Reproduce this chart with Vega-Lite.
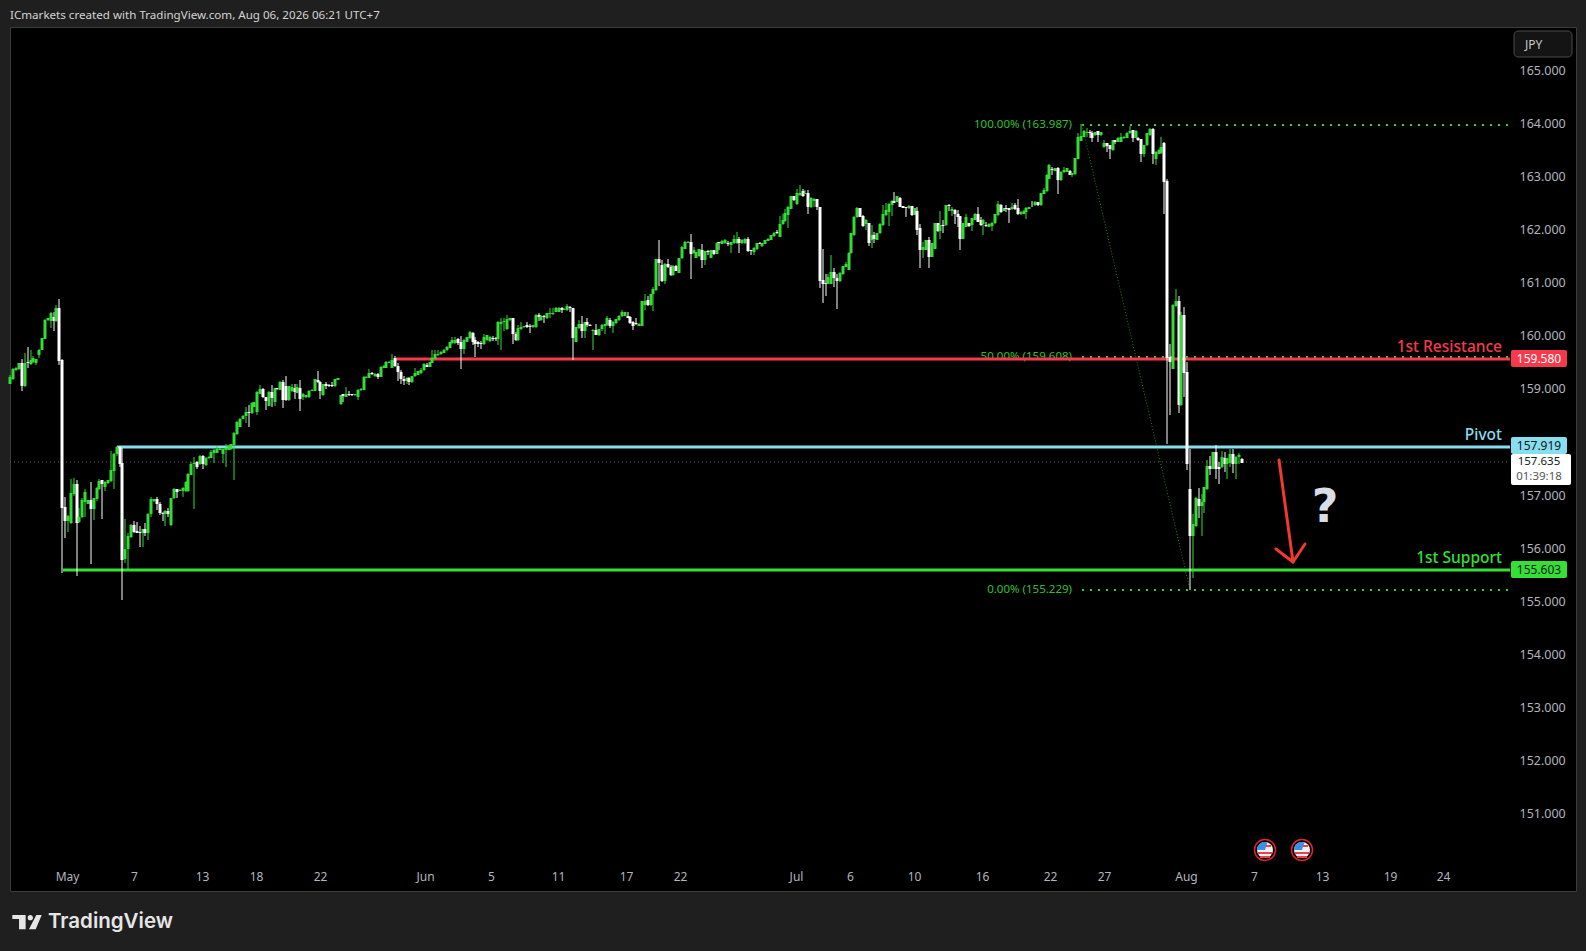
{"$schema":"https://vega.github.io/schema/vega-lite/v6.json","width":1566,"height":864,"autosize":"none","padding":{"left":10,"top":27,"right":10,"bottom":60},"background":"#1f1f1f","config":{"view":{"fill":"#000000","stroke":"#3c3c3c"},"font":"Noto Sans"},
"title":{"text":"ICmarkets created with TradingView.com, Aug 06, 2026 06:21 UTC+7","anchor":"start","frame":"group","fontSize":11.6,"fontWeight":"normal","color":"#d4d4d4","font":"Noto Sans","offset":5},
"datasets":{
"candles":[
{"b":0,"o":159.11,"h":159.27,"l":159.11,"c":159.24},{"b":1,"o":159.19,"h":159.4,"l":159.17,"c":159.38},{"b":2,"o":159.36,"h":159.42,"l":159.35,"c":159.41},{"b":3,"o":159.38,"h":159.5,"l":159.37,"c":159.49},{"b":4,"o":159.49,"h":159.57,"l":158.97,"c":159.06},{"b":5,"o":159.06,"h":159.68,"l":159.05,"c":159.5},{"b":6,"o":159.51,"h":159.8,"l":159.41,"c":159.49},{"b":7,"o":159.48,"h":159.75,"l":159.45,"c":159.55},{"b":8,"o":159.52,"h":159.62,"l":159.5,"c":159.6},{"b":9,"o":159.49,"h":159.58,"l":159.45,"c":159.57},{"b":10,"o":159.65,"h":159.76,"l":159.6,"c":159.75},{"b":11,"o":159.75,"h":159.97,"l":159.74,"c":159.96},{"b":12,"o":159.95,"h":160.32,"l":159.94,"c":160.31},{"b":13,"o":160.3,"h":160.35,"l":160.28,"c":160.34},{"b":14,"o":160.29,"h":160.46,"l":160.15,"c":160.44},{"b":15,"o":160.37,"h":160.45,"l":160.09,"c":160.29},{"b":16,"o":160.29,"h":160.59,"l":160.27,"c":160.53},{"b":17,"o":160.53,"h":160.71,"l":159.46,"c":159.54},{"b":18,"o":159.55,"h":159.57,"l":155.55,"c":156.77},{"b":19,"o":156.78,"h":156.97,"l":156.21,"c":156.53},
{"b":20,"o":156.53,"h":156.63,"l":156.32,"c":156.61},{"b":21,"o":156.48,"h":157.31,"l":156.46,"c":157.05},{"b":22,"o":157.03,"h":157.33,"l":157.0,"c":157.22},{"b":23,"o":157.22,"h":157.29,"l":155.49,"c":156.49},{"b":24,"o":156.5,"h":156.76,"l":156.48,"c":156.6},{"b":25,"o":156.6,"h":156.95,"l":156.58,"c":156.92},{"b":26,"o":156.87,"h":157.12,"l":156.6,"c":157.06},{"b":27,"o":156.85,"h":156.92,"l":156.84,"c":156.91},{"b":28,"o":156.91,"h":157.25,"l":155.72,"c":156.75},{"b":29,"o":156.75,"h":156.96,"l":156.54,"c":156.95},{"b":30,"o":156.93,"h":157.16,"l":156.9,"c":157.15},{"b":31,"o":157.12,"h":157.31,"l":157.1,"c":157.27},{"b":32,"o":157.29,"h":157.3,"l":156.56,"c":157.22},{"b":33,"o":157.17,"h":157.28,"l":157.09,"c":157.26},{"b":34,"o":157.23,"h":157.3,"l":157.22,"c":157.29},{"b":35,"o":157.27,"h":157.84,"l":157.25,"c":157.48},{"b":36,"o":157.47,"h":157.8,"l":157.12,"c":157.78},{"b":37,"o":157.78,"h":157.93,"l":157.75,"c":157.91},{"b":38,"o":157.92,"h":157.93,"l":157.54,"c":157.59},{"b":39,"o":157.61,"h":157.89,"l":155.03,"c":155.79},
{"b":40,"o":155.8,"h":156.56,"l":155.73,"c":155.99},{"b":41,"o":155.99,"h":156.3,"l":155.61,"c":156.24},{"b":42,"o":156.22,"h":156.46,"l":156.2,"c":156.44},{"b":43,"o":156.44,"h":156.52,"l":156.3,"c":156.32},{"b":44,"o":156.34,"h":156.5,"l":156.29,"c":156.3},{"b":45,"o":156.32,"h":156.42,"l":156.04,"c":156.3},{"b":46,"o":156.3,"h":156.38,"l":156.04,"c":156.37},{"b":47,"o":156.37,"h":156.48,"l":156.24,"c":156.3},{"b":48,"o":156.3,"h":156.68,"l":156.16,"c":156.66},{"b":49,"o":156.66,"h":156.98,"l":156.6,"c":156.93},{"b":50,"o":156.9,"h":156.94,"l":156.88,"c":156.93},{"b":51,"o":156.94,"h":156.98,"l":156.73,"c":156.84},{"b":52,"o":156.84,"h":156.88,"l":156.63,"c":156.68},{"b":53,"o":156.68,"h":156.69,"l":156.53,"c":156.65},{"b":54,"o":156.65,"h":156.72,"l":156.43,"c":156.71},{"b":55,"o":156.71,"h":156.76,"l":156.6,"c":156.66},{"b":56,"o":156.44,"h":156.96,"l":156.43,"c":156.95},{"b":57,"o":156.95,"h":157.15,"l":156.94,"c":157.13},{"b":58,"o":157.12,"h":157.13,"l":156.96,"c":157.07},{"b":59,"o":157.09,"h":157.12,"l":157.08,"c":157.11},
{"b":60,"o":157.09,"h":157.16,"l":156.98,"c":157.15},{"b":61,"o":157.08,"h":157.27,"l":157.07,"c":157.26},{"b":62,"o":157.09,"h":157.42,"l":157.06,"c":157.41},{"b":63,"o":157.39,"h":157.64,"l":157.38,"c":157.59},{"b":64,"o":157.59,"h":157.73,"l":156.75,"c":157.62},{"b":65,"o":157.64,"h":157.65,"l":157.51,"c":157.54},{"b":66,"o":157.59,"h":157.76,"l":157.58,"c":157.75},{"b":67,"o":157.74,"h":157.76,"l":157.51,"c":157.59},{"b":68,"o":157.57,"h":157.72,"l":157.56,"c":157.71},{"b":69,"o":157.7,"h":157.74,"l":157.69,"c":157.73},{"b":70,"o":157.71,"h":157.86,"l":157.7,"c":157.82},{"b":71,"o":157.8,"h":157.87,"l":157.62,"c":157.86},{"b":72,"o":157.81,"h":157.94,"l":157.8,"c":157.88},{"b":73,"o":157.86,"h":157.89,"l":157.85,"c":157.88},{"b":74,"o":157.78,"h":157.88,"l":157.62,"c":157.87},{"b":75,"o":157.86,"h":157.98,"l":157.54,"c":157.89},{"b":76,"o":157.86,"h":157.95,"l":157.85,"c":157.94},{"b":77,"o":157.87,"h":157.98,"l":157.86,"c":157.97},{"b":78,"o":157.95,"h":158.19,"l":157.29,"c":158.18},{"b":79,"o":158.16,"h":158.4,"l":158.15,"c":158.39},
{"b":80,"o":158.3,"h":158.46,"l":158.29,"c":158.45},{"b":81,"o":158.45,"h":158.51,"l":158.44,"c":158.5},{"b":82,"o":158.5,"h":158.67,"l":158.36,"c":158.57},{"b":83,"o":158.57,"h":158.7,"l":158.3,"c":158.56},{"b":84,"o":158.55,"h":158.76,"l":158.54,"c":158.75},{"b":85,"o":158.67,"h":158.77,"l":158.66,"c":158.76},{"b":86,"o":158.57,"h":158.96,"l":158.52,"c":158.95},{"b":87,"o":158.92,"h":159.08,"l":158.91,"c":159.01},{"b":88,"o":159.01,"h":159.02,"l":158.84,"c":158.85},{"b":89,"o":158.85,"h":158.86,"l":158.61,"c":158.79},{"b":90,"o":158.69,"h":158.96,"l":158.68,"c":158.95},{"b":91,"o":158.95,"h":159.08,"l":158.67,"c":158.84},{"b":92,"o":158.76,"h":159.03,"l":158.69,"c":159.02},{"b":93,"o":159.02,"h":159.03,"l":158.99,"c":159},{"b":94,"o":158.99,"h":159.15,"l":158.98,"c":159.14},{"b":95,"o":159.13,"h":159.18,"l":158.65,"c":158.8},{"b":96,"o":159.06,"h":159.25,"l":158.78,"c":158.8},{"b":97,"o":158.8,"h":159.07,"l":158.79,"c":159.06},{"b":98,"o":158.96,"h":159.11,"l":158.95,"c":159.04},{"b":99,"o":159.03,"h":159.11,"l":158.82,"c":158.95},
{"b":100,"o":158.94,"h":159.1,"l":158.93,"c":159.04},{"b":101,"o":159.02,"h":159.18,"l":158.6,"c":158.82},{"b":102,"o":158.85,"h":158.93,"l":158.8,"c":158.92},{"b":103,"o":158.85,"h":158.9,"l":158.84,"c":158.89},{"b":104,"o":158.85,"h":158.98,"l":158.84,"c":158.97},{"b":105,"o":158.97,"h":159,"l":158.96,"c":158.99},{"b":106,"o":158.97,"h":159.2,"l":158.96,"c":159.19},{"b":107,"o":159.18,"h":159.34,"l":159.12,"c":159.13},{"b":108,"o":159.14,"h":159.15,"l":158.82,"c":158.97},{"b":109,"o":158.89,"h":159.11,"l":158.88,"c":159.1},{"b":110,"o":159.1,"h":159.14,"l":159.01,"c":159.06},{"b":111,"o":159.09,"h":159.1,"l":159.05,"c":159.06},{"b":112,"o":159.09,"h":159.14,"l":159.05,"c":159.06},{"b":113,"o":159.06,"h":159.2,"l":159.05,"c":159.19},{"b":114,"o":159.18,"h":159.22,"l":159.17,"c":159.21},{"b":115,"o":158.72,"h":158.9,"l":158.71,"c":158.89},{"b":116,"o":158.91,"h":158.92,"l":158.76,"c":158.87},{"b":117,"o":158.86,"h":159.04,"l":158.85,"c":158.91},{"b":118,"o":158.92,"h":158.97,"l":158.88,"c":158.89},{"b":119,"o":158.91,"h":158.92,"l":158.88,"c":158.89},
{"b":120,"o":158.89,"h":158.92,"l":158.88,"c":158.91},{"b":121,"o":158.85,"h":159,"l":158.8,"c":158.99},{"b":122,"o":158.98,"h":159.02,"l":158.97,"c":159.01},{"b":123,"o":158.99,"h":159.25,"l":158.98,"c":159.24},{"b":124,"o":159.22,"h":159.25,"l":159.21,"c":159.24},{"b":125,"o":159.22,"h":159.38,"l":159.21,"c":159.31},{"b":126,"o":159.31,"h":159.32,"l":159.28,"c":159.29},{"b":127,"o":159.25,"h":159.3,"l":159.24,"c":159.29},{"b":128,"o":159.29,"h":159.3,"l":159.2,"c":159.24},{"b":129,"o":159.24,"h":159.44,"l":159.23,"c":159.43},{"b":130,"o":159.41,"h":159.45,"l":159.4,"c":159.44},{"b":131,"o":159.41,"h":159.53,"l":159.4,"c":159.52},{"b":132,"o":159.5,"h":159.53,"l":159.49,"c":159.52},{"b":133,"o":159.41,"h":159.67,"l":159.4,"c":159.55},{"b":134,"o":159.6,"h":159.62,"l":159.43,"c":159.44},{"b":135,"o":159.44,"h":159.5,"l":159.15,"c":159.32},{"b":136,"o":159.32,"h":159.36,"l":159.1,"c":159.2},{"b":137,"o":159.2,"h":159.25,"l":159.08,"c":159.15},{"b":138,"o":159.15,"h":159.23,"l":159.1,"c":159.22},{"b":139,"o":159.22,"h":159.23,"l":159.08,"c":159.13},
{"b":140,"o":159.13,"h":159.26,"l":159.12,"c":159.25},{"b":141,"o":159.25,"h":159.4,"l":159.24,"c":159.3},{"b":142,"o":159.28,"h":159.35,"l":159.27,"c":159.34},{"b":143,"o":159.3,"h":159.4,"l":159.29,"c":159.36},{"b":144,"o":159.36,"h":159.49,"l":159.35,"c":159.48},{"b":145,"o":159.45,"h":159.5,"l":159.42,"c":159.43},{"b":146,"o":159.43,"h":159.52,"l":159.42,"c":159.51},{"b":147,"o":159.5,"h":159.75,"l":159.49,"c":159.6},{"b":148,"o":159.58,"h":159.74,"l":159.57,"c":159.66},{"b":149,"o":159.64,"h":159.74,"l":159.63,"c":159.66},{"b":150,"o":159.66,"h":159.72,"l":159.65,"c":159.71},{"b":151,"o":159.69,"h":159.76,"l":159.68,"c":159.75},{"b":152,"o":159.74,"h":159.81,"l":159.73,"c":159.8},{"b":153,"o":159.78,"h":159.9,"l":159.77,"c":159.89},{"b":154,"o":159.87,"h":159.99,"l":159.86,"c":159.93},{"b":155,"o":159.87,"h":159.99,"l":159.86,"c":159.93},{"b":156,"o":159.95,"h":159.96,"l":159.83,"c":159.87},{"b":157,"o":159.89,"h":160,"l":159.38,"c":159.76},{"b":158,"o":159.76,"h":159.94,"l":159.66,"c":159.93},{"b":159,"o":159.9,"h":159.99,"l":159.89,"c":159.98},
{"b":160,"o":159.96,"h":160.1,"l":159.95,"c":160.08},{"b":161,"o":160.07,"h":160.08,"l":159.83,"c":159.89},{"b":162,"o":159.93,"h":159.99,"l":159.61,"c":159.85},{"b":163,"o":159.89,"h":159.91,"l":159.8,"c":159.85},{"b":164,"o":159.88,"h":159.91,"l":159.76,"c":159.86},{"b":165,"o":159.85,"h":160.04,"l":159.84,"c":159.99},{"b":166,"o":159.93,"h":160.03,"l":159.92,"c":160.02},{"b":167,"o":159.91,"h":160,"l":159.9,"c":159.99},{"b":168,"o":159.96,"h":160,"l":159.91,"c":159.95},{"b":169,"o":159.96,"h":159.99,"l":159.91,"c":159.95},{"b":170,"o":159.95,"h":160.28,"l":159.83,"c":160.27},{"b":171,"o":160.24,"h":160.34,"l":159.74,"c":160.27},{"b":172,"o":160.27,"h":160.35,"l":160.1,"c":160.29},{"b":173,"o":160.13,"h":160.4,"l":160.12,"c":160.32},{"b":174,"o":160.3,"h":160.35,"l":160.29,"c":160.34},{"b":175,"o":160.34,"h":160.35,"l":159.85,"c":160.04},{"b":176,"o":160.05,"h":160.08,"l":159.92,"c":159.93},{"b":177,"o":159.93,"h":160.21,"l":159.92,"c":160.16},{"b":178,"o":160.13,"h":160.27,"l":160.12,"c":160.18},{"b":179,"o":160.17,"h":160.2,"l":160.16,"c":160.19},
{"b":180,"o":160.22,"h":160.27,"l":160.16,"c":160.17},{"b":181,"o":160.19,"h":160.24,"l":160.07,"c":160.17},{"b":182,"o":160.17,"h":160.22,"l":160.16,"c":160.21},{"b":183,"o":160.17,"h":160.41,"l":160.16,"c":160.4},{"b":184,"o":160.4,"h":160.43,"l":160.29,"c":160.37},{"b":185,"o":160.3,"h":160.4,"l":160.29,"c":160.39},{"b":186,"o":160.39,"h":160.4,"l":160.25,"c":160.37},{"b":187,"o":160.34,"h":160.44,"l":160.33,"c":160.43},{"b":188,"o":160.41,"h":160.53,"l":160.34,"c":160.43},{"b":189,"o":160.41,"h":160.54,"l":160.4,"c":160.44},{"b":190,"o":160.46,"h":160.55,"l":160.45,"c":160.54},{"b":191,"o":160.46,"h":160.55,"l":160.45,"c":160.54},{"b":192,"o":160.54,"h":160.55,"l":160.44,"c":160.5},{"b":193,"o":160.5,"h":160.53,"l":160.49,"c":160.52},{"b":194,"o":160.49,"h":160.6,"l":160.48,"c":160.57},{"b":195,"o":160.56,"h":160.57,"l":160.46,"c":160.54},{"b":196,"o":160.53,"h":160.54,"l":159.56,"c":159.96},{"b":197,"o":159.9,"h":160.18,"l":159.89,"c":160.17},{"b":198,"o":160.15,"h":160.3,"l":160.14,"c":160.24},{"b":199,"o":160.24,"h":160.38,"l":159.97,"c":160.09},
{"b":200,"o":160.1,"h":160.27,"l":159.97,"c":160.26},{"b":201,"o":160.26,"h":160.34,"l":160.18,"c":160.21},{"b":202,"o":160.22,"h":160.23,"l":160.19,"c":160.2},{"b":203,"o":160.1,"h":160.13,"l":159.74,"c":160.12},{"b":204,"o":160.12,"h":160.23,"l":160.02,"c":160.03},{"b":205,"o":160.02,"h":160.14,"l":160.01,"c":160.13},{"b":206,"o":160.13,"h":160.24,"l":160.1,"c":160.21},{"b":207,"o":160.19,"h":160.24,"l":160.05,"c":160.23},{"b":208,"o":160.21,"h":160.39,"l":160.2,"c":160.34},{"b":209,"o":160.3,"h":160.35,"l":160.15,"c":160.19},{"b":210,"o":160.2,"h":160.28,"l":160.07,"c":160.27},{"b":211,"o":160.25,"h":160.33,"l":160.24,"c":160.32},{"b":212,"o":160.3,"h":160.4,"l":160.29,"c":160.39},{"b":213,"o":160.38,"h":160.49,"l":160.37,"c":160.45},{"b":214,"o":160.39,"h":160.46,"l":160.38,"c":160.45},{"b":215,"o":160.38,"h":160.45,"l":160.34,"c":160.35},{"b":216,"o":160.37,"h":160.39,"l":160.24,"c":160.25},{"b":217,"o":160.27,"h":160.28,"l":160.12,"c":160.2},{"b":218,"o":160.25,"h":160.34,"l":160.22,"c":160.23},{"b":219,"o":160.2,"h":160.25,"l":160.19,"c":160.24},
{"b":220,"o":160.2,"h":160.67,"l":160.19,"c":160.66},{"b":221,"o":160.59,"h":160.79,"l":160.49,"c":160.67},{"b":222,"o":160.68,"h":160.76,"l":160.57,"c":160.59},{"b":223,"o":160.58,"h":160.8,"l":160.57,"c":160.79},{"b":224,"o":160.79,"h":160.93,"l":160.48,"c":160.89},{"b":225,"o":160.87,"h":161.46,"l":160.86,"c":161.45},{"b":226,"o":161.45,"h":161.81,"l":160.94,"c":161.38},{"b":227,"o":161.35,"h":161.43,"l":161.03,"c":161.04},{"b":228,"o":161.04,"h":161.38,"l":160.98,"c":161.37},{"b":229,"o":161.37,"h":161.45,"l":161.29,"c":161.3},{"b":230,"o":161.3,"h":161.34,"l":161.14,"c":161.15},{"b":231,"o":161.15,"h":161.34,"l":161.14,"c":161.33},{"b":232,"o":161.33,"h":161.34,"l":161.22,"c":161.23},{"b":233,"o":161.2,"h":161.48,"l":161.19,"c":161.47},{"b":234,"o":161.47,"h":161.7,"l":161.46,"c":161.69},{"b":235,"o":161.65,"h":161.8,"l":161.64,"c":161.77},{"b":236,"o":161.76,"h":161.79,"l":161.75,"c":161.78},{"b":237,"o":161.77,"h":161.92,"l":161.08,"c":161.55},{"b":238,"o":161.56,"h":161.69,"l":161.55,"c":161.62},{"b":239,"o":161.48,"h":161.59,"l":161.47,"c":161.58},
{"b":240,"o":161.51,"h":161.65,"l":161.5,"c":161.64},{"b":241,"o":161.62,"h":161.74,"l":161.29,"c":161.43},{"b":242,"o":161.43,"h":161.61,"l":161.34,"c":161.6},{"b":243,"o":161.6,"h":161.62,"l":161.53,"c":161.59},{"b":244,"o":161.48,"h":161.63,"l":161.47,"c":161.62},{"b":245,"o":161.62,"h":161.63,"l":161.53,"c":161.55},{"b":246,"o":161.55,"h":161.77,"l":161.54,"c":161.76},{"b":247,"o":161.77,"h":161.78,"l":161.62,"c":161.75},{"b":248,"o":161.74,"h":161.81,"l":161.73,"c":161.8},{"b":249,"o":161.75,"h":161.84,"l":161.74,"c":161.81},{"b":250,"o":161.76,"h":161.8,"l":161.7,"c":161.74},{"b":251,"o":161.72,"h":161.78,"l":161.57,"c":161.77},{"b":252,"o":161.75,"h":161.91,"l":161.74,"c":161.84},{"b":253,"o":161.75,"h":161.96,"l":161.74,"c":161.83},{"b":254,"o":161.83,"h":161.87,"l":161.57,"c":161.75},{"b":255,"o":161.75,"h":161.83,"l":161.74,"c":161.82},{"b":256,"o":161.75,"h":161.85,"l":161.74,"c":161.84},{"b":257,"o":161.84,"h":161.86,"l":161.59,"c":161.6},{"b":258,"o":161.62,"h":161.63,"l":161.53,"c":161.6},{"b":259,"o":161.59,"h":161.68,"l":161.53,"c":161.67},
{"b":260,"o":161.64,"h":161.76,"l":161.63,"c":161.75},{"b":261,"o":161.75,"h":161.77,"l":161.73,"c":161.74},{"b":262,"o":161.7,"h":161.76,"l":161.69,"c":161.75},{"b":263,"o":161.74,"h":161.82,"l":161.73,"c":161.81},{"b":264,"o":161.8,"h":161.85,"l":161.79,"c":161.84},{"b":265,"o":161.82,"h":161.91,"l":161.81,"c":161.9},{"b":266,"o":161.88,"h":161.96,"l":161.87,"c":161.95},{"b":267,"o":161.96,"h":162,"l":161.92,"c":161.94},{"b":268,"o":161.87,"h":162.26,"l":161.86,"c":162.12},{"b":269,"o":162.11,"h":162.3,"l":162.1,"c":162.19},{"b":270,"o":162.17,"h":162.39,"l":162.16,"c":162.33},{"b":271,"o":162.28,"h":162.45,"l":162.04,"c":162.44},{"b":272,"o":162.4,"h":162.65,"l":162.39,"c":162.64},{"b":273,"o":162.64,"h":162.65,"l":162.55,"c":162.56},{"b":274,"o":162.49,"h":162.77,"l":162.48,"c":162.69},{"b":275,"o":162.66,"h":162.85,"l":162.65,"c":162.7},{"b":276,"o":162.73,"h":162.77,"l":162.63,"c":162.65},{"b":277,"o":162.68,"h":162.75,"l":162.67,"c":162.7},{"b":278,"o":162.7,"h":162.75,"l":162.31,"c":162.43},{"b":279,"o":162.43,"h":162.62,"l":162.42,"c":162.61},
{"b":280,"o":162.55,"h":162.6,"l":162.44,"c":162.58},{"b":281,"o":162.58,"h":162.59,"l":162.38,"c":162.44},{"b":282,"o":162.43,"h":162.44,"l":160.91,"c":161.04},{"b":283,"o":161.05,"h":161.64,"l":160.63,"c":160.99},{"b":284,"o":161,"h":161.18,"l":160.76,"c":160.99},{"b":285,"o":160.99,"h":161.18,"l":160.98,"c":161.12},{"b":286,"o":160.99,"h":161.53,"l":160.98,"c":161.21},{"b":287,"o":161.21,"h":161.28,"l":160.93,"c":161.09},{"b":288,"o":161.1,"h":161.18,"l":160.52,"c":161.04},{"b":289,"o":161.04,"h":161.21,"l":161.03,"c":161.2},{"b":290,"o":161.17,"h":161.33,"l":161.16,"c":161.32},{"b":291,"o":161.31,"h":161.4,"l":161.3,"c":161.37},{"b":292,"o":161.25,"h":161.58,"l":161.24,"c":161.57},{"b":293,"o":161.56,"h":161.95,"l":161.55,"c":161.94},{"b":294,"o":161.9,"h":162.26,"l":161.89,"c":162.25},{"b":295,"o":162.24,"h":162.43,"l":162.23,"c":162.42},{"b":296,"o":162.41,"h":162.42,"l":162.24,"c":162.25},{"b":297,"o":162.26,"h":162.28,"l":162.06,"c":162.07},{"b":298,"o":162.11,"h":162.2,"l":162,"c":162.19},{"b":299,"o":162.13,"h":162.14,"l":161.7,"c":161.76},
{"b":300,"o":161.81,"h":162.09,"l":161.67,"c":161.91},{"b":301,"o":161.9,"h":161.96,"l":161.76,"c":161.83},{"b":302,"o":161.82,"h":161.95,"l":161.81,"c":161.94},{"b":303,"o":161.94,"h":162.13,"l":161.93,"c":162.11},{"b":304,"o":162.09,"h":162.47,"l":162.08,"c":162.31},{"b":305,"o":162.28,"h":162.5,"l":162.27,"c":162.38},{"b":306,"o":162.34,"h":162.5,"l":162.07,"c":162.49},{"b":307,"o":162.47,"h":162.56,"l":162.26,"c":162.55},{"b":308,"o":162.55,"h":162.71,"l":162.5,"c":162.51},{"b":309,"o":162.53,"h":162.65,"l":162.52,"c":162.64},{"b":310,"o":162.61,"h":162.63,"l":162.43,"c":162.44},{"b":311,"o":162.45,"h":162.46,"l":162.41,"c":162.42},{"b":312,"o":162.43,"h":162.44,"l":162.25,"c":162.42},{"b":313,"o":162.41,"h":162.47,"l":162.4,"c":162.46},{"b":314,"o":162.45,"h":162.46,"l":162.26,"c":162.28},{"b":315,"o":162.29,"h":162.42,"l":162.28,"c":162.41},{"b":316,"o":162.36,"h":162.43,"l":161.9,"c":162.01},{"b":317,"o":162.03,"h":162.11,"l":161.29,"c":161.62},{"b":318,"o":161.62,"h":161.78,"l":161.47,"c":161.69},{"b":319,"o":161.63,"h":161.82,"l":161.62,"c":161.81},
{"b":320,"o":161.81,"h":161.87,"l":161.29,"c":161.49},{"b":321,"o":161.5,"h":161.76,"l":161.49,"c":161.75},{"b":322,"o":161.65,"h":162.14,"l":161.64,"c":162.13},{"b":323,"o":162.13,"h":162.14,"l":161.97,"c":161.98},{"b":324,"o":161.99,"h":162.36,"l":161.84,"c":162.09},{"b":325,"o":162.09,"h":162.19,"l":161.95,"c":162.07},{"b":326,"o":162.09,"h":162.48,"l":162.08,"c":162.47},{"b":327,"o":162.47,"h":162.49,"l":162.36,"c":162.45},{"b":328,"o":162.36,"h":162.44,"l":162.26,"c":162.39},{"b":329,"o":162.38,"h":162.4,"l":162.12,"c":162.3},{"b":330,"o":162.31,"h":162.38,"l":162.06,"c":162.25},{"b":331,"o":162.26,"h":162.27,"l":161.62,"c":161.84},{"b":332,"o":161.84,"h":162.14,"l":161.83,"c":162.13},{"b":333,"o":162.06,"h":162.3,"l":162.05,"c":162.25},{"b":334,"o":162.13,"h":162.14,"l":162.06,"c":162.07},{"b":335,"o":162.09,"h":162.23,"l":161.99,"c":162.22},{"b":336,"o":162.19,"h":162.33,"l":162.18,"c":162.3},{"b":337,"o":162.3,"h":162.43,"l":162.15,"c":162.16},{"b":338,"o":162.19,"h":162.25,"l":162.07,"c":162.09},{"b":339,"o":162.12,"h":162.2,"l":161.9,"c":162.19},
{"b":340,"o":162.09,"h":162.16,"l":162.05,"c":162.08},{"b":341,"o":162.06,"h":162.13,"l":162.05,"c":162.12},{"b":342,"o":162.07,"h":162.15,"l":161.99,"c":162.14},{"b":343,"o":162.13,"h":162.31,"l":162.12,"c":162.3},{"b":344,"o":162.28,"h":162.55,"l":162.27,"c":162.49},{"b":345,"o":162.48,"h":162.49,"l":162.33,"c":162.34},{"b":346,"o":162.36,"h":162.42,"l":162.35,"c":162.41},{"b":347,"o":162.41,"h":162.48,"l":162.34,"c":162.39},{"b":348,"o":162.41,"h":162.42,"l":162.14,"c":162.38},{"b":349,"o":162.39,"h":162.51,"l":162.38,"c":162.44},{"b":350,"o":162.47,"h":162.5,"l":162.38,"c":162.39},{"b":351,"o":162.41,"h":162.58,"l":162.29,"c":162.3},{"b":352,"o":162.3,"h":162.35,"l":162.29,"c":162.34},{"b":353,"o":162.31,"h":162.37,"l":162.3,"c":162.36},{"b":354,"o":162.34,"h":162.43,"l":162.21,"c":162.42},{"b":355,"o":162.4,"h":162.44,"l":162.39,"c":162.43},{"b":356,"o":162.51,"h":162.55,"l":162.44,"c":162.5},{"b":357,"o":162.47,"h":162.54,"l":162.46,"c":162.53},{"b":358,"o":162.52,"h":162.53,"l":162.46,"c":162.47},{"b":359,"o":162.47,"h":162.7,"l":162.46,"c":162.69},
{"b":360,"o":162.68,"h":162.8,"l":162.67,"c":162.75},{"b":361,"o":162.73,"h":163.05,"l":162.72,"c":163.04},{"b":362,"o":162.97,"h":163.24,"l":162.96,"c":163.22},{"b":363,"o":163.15,"h":163.19,"l":163.04,"c":163.13},{"b":364,"o":163.12,"h":163.17,"l":163.11,"c":163.16},{"b":365,"o":163.17,"h":163.18,"l":162.68,"c":162.94},{"b":366,"o":162.94,"h":163.11,"l":162.93,"c":163.1},{"b":367,"o":163.09,"h":163.18,"l":163.08,"c":163.13},{"b":368,"o":163.1,"h":163.17,"l":163.09,"c":163.16},{"b":369,"o":163.12,"h":163.13,"l":163.03,"c":163.04},{"b":370,"o":163.03,"h":163.08,"l":163,"c":163.07},{"b":371,"o":163.05,"h":163.36,"l":163.04,"c":163.35},{"b":372,"o":163.34,"h":163.82,"l":163.33,"c":163.75},{"b":373,"o":163.68,"h":163.99,"l":163.67,"c":163.77},{"b":374,"o":163.76,"h":163.88,"l":163.75,"c":163.87},{"b":375,"o":163.82,"h":163.93,"l":163.76,"c":163.85},{"b":376,"o":163.85,"h":163.88,"l":163.74,"c":163.83},{"b":377,"o":163.83,"h":163.87,"l":163.66,"c":163.73},{"b":378,"o":163.79,"h":163.85,"l":163.78,"c":163.84},{"b":379,"o":163.86,"h":163.87,"l":163.66,"c":163.79},
{"b":380,"o":163.79,"h":163.85,"l":163.78,"c":163.84},{"b":381,"o":163.56,"h":163.7,"l":163.55,"c":163.64},{"b":382,"o":163.63,"h":163.64,"l":163.47,"c":163.58},{"b":383,"o":163.6,"h":163.61,"l":163.34,"c":163.52},{"b":384,"o":163.5,"h":163.7,"l":163.49,"c":163.69},{"b":385,"o":163.69,"h":163.7,"l":163.62,"c":163.66},{"b":386,"o":163.66,"h":163.75,"l":163.65,"c":163.74},{"b":387,"o":163.66,"h":163.82,"l":163.65,"c":163.76},{"b":388,"o":163.73,"h":163.77,"l":163.72,"c":163.76},{"b":389,"o":163.74,"h":163.84,"l":163.73,"c":163.83},{"b":390,"o":163.82,"h":163.95,"l":163.81,"c":163.87},{"b":391,"o":163.88,"h":163.89,"l":163.66,"c":163.74},{"b":392,"o":163.74,"h":163.88,"l":163.73,"c":163.87},{"b":393,"o":163.74,"h":163.75,"l":163.68,"c":163.69},{"b":394,"o":163.71,"h":163.72,"l":163.29,"c":163.43},{"b":395,"o":163.44,"h":163.61,"l":163.37,"c":163.6},{"b":396,"o":163.6,"h":163.83,"l":163.59,"c":163.82},{"b":397,"o":163.79,"h":163.92,"l":163.78,"c":163.91},{"b":398,"o":163.91,"h":163.92,"l":163.24,"c":163.43},{"b":399,"o":163.33,"h":163.48,"l":163.22,"c":163.47},
{"b":400,"o":163.44,"h":163.52,"l":163.43,"c":163.51},{"b":401,"o":163.45,"h":163.76,"l":163.44,"c":163.56},{"b":402,"o":163.64,"h":163.65,"l":162.3,"c":162.91},{"b":403,"o":162.92,"h":162.96,"l":157.97,"c":159.6},{"b":404,"o":159.61,"h":159.85,"l":158.51,"c":159.52},{"b":405,"o":159.39,"h":160.6,"l":159.38,"c":160.59},{"b":406,"o":160.57,"h":160.89,"l":160.56,"c":160.66},{"b":407,"o":160.66,"h":160.75,"l":158.56,"c":158.7},{"b":408,"o":158.7,"h":160.46,"l":158.69,"c":160.4},{"b":409,"o":160.4,"h":160.55,"l":158.86,"c":159.3},{"b":410,"o":159.32,"h":159.52,"l":157.48,"c":157.59},{"b":411,"o":157.12,"h":157.88,"l":155.23,"c":156.24},{"b":412,"o":156.24,"h":156.66,"l":155.45,"c":156.46},{"b":413,"o":156.42,"h":156.98,"l":156.41,"c":156.96},{"b":414,"o":156.94,"h":157.14,"l":156.58,"c":156.8},{"b":415,"o":156.8,"h":157.03,"l":156.24,"c":156.88},{"b":416,"o":156.88,"h":157.17,"l":156.67,"c":157.16},{"b":417,"o":157.12,"h":157.67,"l":157.11,"c":157.55},{"b":418,"o":157.55,"h":157.74,"l":157.38,"c":157.51},{"b":419,"o":157.51,"h":157.83,"l":157.5,"c":157.82},
{"b":420,"o":157.82,"h":157.95,"l":157.31,"c":157.51},{"b":421,"o":157.54,"h":157.63,"l":157.21,"c":157.51},{"b":422,"o":157.53,"h":157.84,"l":157.52,"c":157.72},{"b":423,"o":157.7,"h":157.82,"l":157.45,"c":157.59},{"b":424,"o":157.6,"h":157.71,"l":157.31,"c":157.7},{"b":425,"o":157.62,"h":157.87,"l":157.54,"c":157.79},{"b":426,"o":157.79,"h":157.87,"l":157.43,"c":157.59},{"b":427,"o":157.59,"h":157.74,"l":157.31,"c":157.73},{"b":428,"o":157.73,"h":157.81,"l":157.6,"c":157.76},{"b":429,"o":157.69,"h":157.71,"l":157.61,"c":157.62}
],
"fib":[{"b":373.2,"b2":522.5,"p":163.987},{"b":373.2,"b2":522.5,"p":159.608},{"b":373.2,"b2":522.5,"p":155.229}],
"fibText":[{"b":370,"p":163.987,"t":"100.00% (163.987)"},{"b":370,"p":159.608,"t":"50.00% (159.608)"},{"b":370,"p":155.229,"t":"0.00% (155.229)"}],
"diag":[{"b":373.2,"p":163.987},{"b":411,"p":155.229}],
"last":[{"b":-0.17,"b2":522.5,"p":157.635}],
"levels":[{"name":"res","b":134.3,"b2":522.5,"p":159.58},{"name":"piv","b":37.1,"b2":522.5,"p":157.919},{"name":"sup","b":18.2,"b2":522.5,"p":155.603}],
"levelText":[{"name":"res","b":519.6,"p":159.8,"t":"1st Resistance"},{"name":"piv","b":519.6,"p":158.15,"t":"Pivot"},{"name":"sup","b":519.6,"p":155.83,"t":"1st Support"}],
"tags":[{"name":"res","b":522.8,"b2":542.3,"p":159.74,"p2":159.42,"t":"159.580","tp":159.58},{"name":"piv","b":522.8,"b2":542.3,"p":158.1,"p2":157.78,"t":"157.919","tp":157.94},{"name":"sup","b":522.8,"b2":542.3,"p":155.76,"p2":155.44,"t":"155.603","tp":155.603}],
"priceBox":[{"b":522.8,"b2":543.7,"p":157.78,"p2":157.2}],
"priceText":[{"b":532.6,"p":157.63,"t":"157.635"}],
"countdown":[{"b":532.6,"p":157.35,"t":"01:39:18"}],
"unit":[{"b":523.9,"b2":544.1,"p":165.74,"p2":165.26}],
"unitText":[{"b":527.7,"p":165.74,"t":"JPY"}],
"arrow":[{"s":"shaft","b":442,"p":157.67},{"s":"shaft","b":447,"p":155.75},{"s":"head","b":441,"p":155.99},{"s":"head","b":447,"p":155.75},{"s":"head","b":451,"p":156.09}],
"question":[{"b":458,"p":156.76,"t":"?"}],
"flags":[{"b":437.1,"p":150.33},{"b":449.9,"p":150.33}],
"stripes":[{"b":437.4,"b2":439.3,"p":150.4},{"b":434.6,"b2":439.6,"p":150.27},{"b":435.3,"b2":438.9,"p":150.19},{"b":450.2,"b2":452.1,"p":150.4},{"b":447.4,"b2":452.4,"p":150.27},{"b":448.1,"b2":451.7,"p":150.19}],
"logoMark":[{"b":5.6,"p":148.98}],
"logoText":[{"b":13.1,"p":148.98,"t":"TradingView"}]
},
"encoding":{
"x":{"field":"b","type":"quantitative","title":null,"scale":{"domain":[-0.174,545.47],"nice":false,"zero":false,"round":true},"axis":{"values":[19.6,43.2,66.7,85.5,108,144.4,167.3,190.8,214.5,233.3,273.7,292.4,314.8,338.5,362.3,381,409.6,433.2,456.9,480.6,499.2],"labelExpr":"{'19.6':'May','43.2':'7','66.7':'13','85.5':'18','108':'22','144.4':'Jun','167.3':'5','190.8':'11','214.5':'17','233.3':'22','273.7':'Jul','292.4':'6','314.8':'10','338.5':'16','362.3':'22','381':'27','409.6':'Aug','433.2':'7','456.9':'13','480.6':'19','499.2':'24'}[''+datum.value]","orient":"bottom","offset":-19.5,"domain":false,"ticks":false,"grid":false,"labelPadding":0,"labelColor":"#b2b5be","labelFontSize":12,"labelFont":"Noto Sans","labelOverlap":false,"labelFlush":false,"labelBound":false,"zindex":1}},
"y":{"field":"p","type":"quantitative","title":null,"scale":{"domain":[149.555,165.823],"nice":false,"zero":false,"round":true},"axis":{"values":[151,152,153,154,155,156,157,158,159,160,161,162,163,164,165],"format":".3f","orient":"right","offset":-57,"domain":false,"ticks":false,"grid":false,"labelPadding":0,"labelOffset":-1,"labelAlign":"left","labelColor":"#b2b5be","labelFontSize":12.5,"labelFont":"Noto Sans","labelOverlap":false,"labelBound":false,"labelFlush":false,"zindex":0}}
},
"layer":[
{"data":{"name":"last"},"mark":{"type":"rule","stroke":"#5d5d5d","strokeWidth":1,"strokeDash":[1,3]},"encoding":{"x2":{"field":"b2"}}},
{"data":{"name":"fib"},"mark":{"type":"rule","stroke":"#2fd62f","strokeWidth":2,"strokeDash":[2,6]},"encoding":{"x2":{"field":"b2"}}},
{"data":{"name":"diag"},"mark":{"type":"line","stroke":"#1f8a1f","strokeWidth":1,"strokeDash":[1,2]}},
{"data":{"name":"fibText"},"mark":{"type":"text","align":"right","baseline":"middle","fontSize":11.5,"color":"#2fc02f","font":"Noto Sans"},"encoding":{"text":{"field":"t"}}},
{"data":{"name":"levels"},"mark":{"type":"rule","strokeWidth":3},"encoding":{"x2":{"field":"b2"},"color":{"field":"name","type":"nominal","legend":null,"scale":{"domain":["res","piv","sup"],"range":["#f7394b","#86deee","#33e033"]}}}},
{"data":{"name":"candles"},"mark":{"type":"rule","strokeWidth":1},"encoding":{"y":{"field":"h","type":"quantitative","title":null,"scale":{"domain":[149.555,165.823],"nice":false,"zero":false,"round":true},"axis":{"values":[151,152,153,154,155,156,157,158,159,160,161,162,163,164,165],"format":".3f","orient":"right","offset":-57,"domain":false,"ticks":false,"grid":false,"labelPadding":0,"labelOffset":-1,"labelAlign":"left","labelColor":"#b2b5be","labelFontSize":12.5,"labelFont":"Noto Sans","labelOverlap":false,"labelBound":false,"labelFlush":false,"zindex":0}},"y2":{"field":"l"},"stroke":{"condition":{"test":"datum.c>=datum.o","value":"#33dd33"},"value":"#ffffff"}}},
{"data":{"name":"candles"},"mark":{"type":"rule","strokeWidth":3},"encoding":{"y":{"field":"o","type":"quantitative","title":null,"scale":{"domain":[149.555,165.823],"nice":false,"zero":false,"round":true},"axis":{"values":[151,152,153,154,155,156,157,158,159,160,161,162,163,164,165],"format":".3f","orient":"right","offset":-57,"domain":false,"ticks":false,"grid":false,"labelPadding":0,"labelOffset":-1,"labelAlign":"left","labelColor":"#b2b5be","labelFontSize":12.5,"labelFont":"Noto Sans","labelOverlap":false,"labelBound":false,"labelFlush":false,"zindex":0}},"y2":{"field":"c"},"stroke":{"condition":{"test":"datum.c>=datum.o","value":"#33dd33"},"value":"#ffffff"}}},
{"data":{"name":"levelText"},"mark":{"type":"text","align":"right","baseline":"middle","fontSize":15.5,"fontWeight":500,"font":"Noto Sans"},"encoding":{"text":{"field":"t"},"color":{"field":"name","type":"nominal","legend":null}}},
{"data":{"name":"priceBox"},"mark":{"type":"rect","fill":"#ffffff","cornerRadius":2},"encoding":{"x2":{"field":"b2"},"y2":{"field":"p2"}}},
{"data":{"name":"tags"},"mark":{"type":"rect","cornerRadius":2},"encoding":{"x2":{"field":"b2"},"y2":{"field":"p2"},"color":{"field":"name","type":"nominal","legend":null}}},
{"data":{"name":"tags"},"mark":{"type":"text","align":"center","baseline":"middle","fontSize":12,"font":"Noto Sans"},"encoding":{"x":{"datum":532.6,"type":"quantitative"},"y":{"field":"tp","type":"quantitative","title":null,"scale":{"domain":[149.555,165.823],"nice":false,"zero":false,"round":true},"axis":{"values":[151,152,153,154,155,156,157,158,159,160,161,162,163,164,165],"format":".3f","orient":"right","offset":-57,"domain":false,"ticks":false,"grid":false,"labelPadding":0,"labelOffset":-1,"labelAlign":"left","labelColor":"#b2b5be","labelFontSize":12.5,"labelFont":"Noto Sans","labelOverlap":false,"labelBound":false,"labelFlush":false,"zindex":0}},"text":{"field":"t"},"fill":{"condition":{"test":"datum.name==='res'","value":"#ffffff"},"value":"#131722"}}},
{"data":{"name":"priceText"},"mark":{"type":"text","align":"center","baseline":"middle","fontSize":11.5,"color":"#131722","font":"Noto Sans"},"encoding":{"text":{"field":"t"}}},
{"data":{"name":"countdown"},"mark":{"type":"text","align":"center","baseline":"middle","fontSize":11.5,"color":"#555555","font":"Noto Sans"},"encoding":{"text":{"field":"t"}}},
{"data":{"name":"unit"},"mark":{"type":"rect","fill":"#141414","stroke":"#4a4a4a","strokeWidth":1,"cornerRadius":4},"encoding":{"x2":{"field":"b2"},"y2":{"field":"p2"}}},
{"data":{"name":"unitText"},"mark":{"type":"text","align":"left","baseline":"middle","fontSize":12,"color":"#c8c8c8","font":"Noto Sans","dy":14},"encoding":{"text":{"field":"t"}}},
{"data":{"name":"arrow"},"mark":{"type":"line","stroke":"#f0392f","strokeWidth":3,"strokeCap":"round","strokeJoin":"round"},"encoding":{"detail":{"field":"s"}}},
{"data":{"name":"question"},"mark":{"type":"text","align":"center","baseline":"middle","fontSize":46,"fontWeight":"bold","color":"#d9dde5","font":"DejaVu Sans"},"encoding":{"text":{"field":"t"}}},
{"data":{"name":"flags"},"mark":{"type":"point","shape":"circle","filled":true,"size":441,"fill":"#000000","stroke":"#e3242b","strokeWidth":1.5,"opacity":1}},
{"data":{"name":"flags"},"mark":{"type":"point","shape":"circle","filled":true,"size":256,"fill":"#f2f2f2","opacity":1}},
{"data":{"name":"flags"},"mark":{"type":"arc","radius":8,"theta":4.71,"theta2":6.6,"fill":"#3b8fe8"}},
{"data":{"name":"stripes"},"mark":{"type":"rule","stroke":"#e8434a","strokeWidth":2},"encoding":{"x2":{"field":"b2"}}},
{"data":{"name":"logoMark"},"mark":{"type":"point","filled":true,"opacity":1,"size":900,"color":"#e6e6e6","shape":"M-0.98,-0.47L-0.09,-0.47L-0.09,0.49L-0.53,0.49L-0.53,-0.2L-0.98,-0.2ZM0.04,-0.29a0.18,0.18 0 1,0 0.36,0a0.18,0.18 0 1,0 -0.36,0ZM0.62,-0.47L0.98,-0.47L0.58,0.49L0.13,0.49Z"}},
{"data":{"name":"logoText"},"mark":{"type":"text","align":"left","baseline":"middle","fontSize":20.5,"fontWeight":600,"color":"#e6e6e6","font":"Inter"},"encoding":{"text":{"field":"t"}}}
]}
